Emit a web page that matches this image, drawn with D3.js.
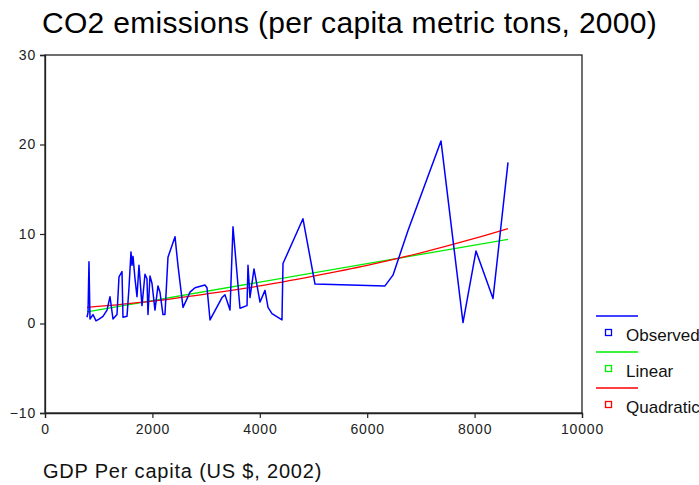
<!DOCTYPE html>
<html>
<head>
<meta charset="utf-8">
<script src="https://cdnjs.cloudflare.com/ajax/libs/d3/7.8.5/d3.min.js"></script>
<style>
  body { margin: 0; background: #fff; }
  svg { display: block; }
</style>
</head>
<body>
<svg id="chart"></svg>
<script>
// Observed series: GDP per capita (US $, 2002) and CO2 per capita, in GDP order
const gdp = [782, 801, 819, 838, 894, 950, 1006, 1080, 1155, 1210, 1266, 1341, 1378, 1434, 1452,
    1527, 1564, 1601, 1620, 1639, 1676, 1713, 1750, 1806, 1862, 1899, 1918, 1955, 1992, 2048,
    2104, 2141, 2197, 2234, 2290, 2421, 2476, 2570, 2663, 2700, 2793, 2979, 3017, 3073, 3296,
    3352, 3445, 3501, 3631, 3762, 3780, 3817, 3892, 4004, 4097, 4153, 4227, 4413, 4432, 4804,
    5028, 6331, 6480, 6760, 7374, 7784, 8026, 8343, 8622];
const co2 = [0.7, 1.2, 6.9, 0.5, 1.0, 0.3, 0.5, 0.8, 1.5, 3.0, 0.5, 1.0, 5.2, 5.8, 0.7,
    0.8, 4.0, 8.0, 6.5, 7.5, 5.0, 3.0, 6.5, 2.0, 5.5, 5.0, 1.0, 5.3, 4.5, 1.5,
    4.2, 3.5, 1.0, 1.0, 7.4, 9.7, 6.5, 1.8, 3.0, 3.5, 4.0, 4.3, 4.0, 0.4, 2.9,
    3.2, 1.5, 10.8, 1.7, 2.0, 6.5, 2.9, 6.1, 2.4, 3.7, 1.8, 1.1, 0.4, 6.7, 11.7,
    4.4, 4.2, 5.4, 10.4, 20.4, 0.1, 8.1, 2.8, 18.0];

// Fitted curves
const linearGdp = [782, 8622];
const linearFit = [1.3, 9.4];
const quadGdp = [782, 2000, 3000, 4000, 5000, 6000, 7000, 8000, 8622];
const quadFit = [1.8, 2.5, 3.3, 4.2, 5.3, 6.5, 7.9, 9.5, 10.6];

const xTicks = [0, 2000, 4000, 6000, 8000, 10000];
const yTicks = [-10, 0, 10, 20, 30];

const seriesNames = ["Observed", "Linear", "Quadratic"];
const seriesColors = ["#0000ff", "#00ee00", "#ff0000"];

const width = 699, height = 485;
const margin = { top: 55, right: 117, bottom: 72, left: 45 };
const plotW = width - margin.left - margin.right;
const plotH = height - margin.top - margin.bottom;
const font = "'Liberation Sans', Arial, sans-serif";

const svg = d3.select("#chart")
    .attr("width", width)
    .attr("height", height)
    .attr("font-family", font);

const xScale = d3.scaleLinear().domain([0, 10000]).range([margin.left, margin.left + plotW]);
const yScale = d3.scaleLinear().domain([-10, 30]).range([margin.top + plotH, margin.top]);

// Title
svg.append("text")
    .attr("x", 42)
    .attr("y", 33)
    .attr("font-size", "30px")
    .attr("letter-spacing", "0.3px")
    .attr("fill", "#000")
    .text("CO2 emissions (per capita metric tons, 2000)");

// X axis label
svg.append("text")
    .attr("x", 43)
    .attr("y", 478)
    .attr("font-size", "20px")
    .attr("letter-spacing", "0.8px")
    .attr("fill", "#111")
    .text("GDP Per capita (US $, 2002)");

// Plot frame
svg.append("rect")
    .attr("x", margin.left)
    .attr("y", margin.top)
    .attr("width", plotW)
    .attr("height", plotH)
    .attr("fill", "none")
    .attr("stroke", "#222")
    .attr("stroke-width", 1.3);

// Axes
const xAxis = d3.axisBottom(xScale).tickValues(xTicks).tickSize(5).tickPadding(6).tickFormat(d3.format("d"));
const yAxis = d3.axisLeft(yScale).tickValues(yTicks).tickSize(5).tickPadding(4);

const gx = svg.append("g")
    .attr("transform", `translate(0, ${margin.top + plotH})`)
    .call(xAxis);
const gy = svg.append("g")
    .attr("transform", `translate(${margin.left}, 0)`)
    .call(yAxis);

[gx, gy].forEach(g => {
    g.select(".domain").attr("stroke", "#222").attr("stroke-width", 1.3);
    g.selectAll(".tick line").attr("stroke", "#222").attr("stroke-width", 1.2);
    g.selectAll(".tick text")
        .attr("fill", "#222")
        .attr("font-size", "14px")
        .attr("letter-spacing", "0.8px")
        .attr("font-family", font);
});

// Lines
const observed = gdp.map((g, i) => ({ x: g, y: co2[i] }));
const linear = linearGdp.map((g, i) => ({ x: g, y: linearFit[i] }));
const quad = quadGdp.map((g, i) => ({ x: g, y: quadFit[i] }));

const line = d3.line().x(d => xScale(d.x)).y(d => yScale(d.y));
const smooth = d3.line().x(d => xScale(d.x)).y(d => yScale(d.y)).curve(d3.curveMonotoneX);

svg.append("path").datum(linear)
    .attr("d", line)
    .attr("fill", "none")
    .attr("stroke", seriesColors[1])
    .attr("stroke-width", 1.3);

svg.append("path").datum(quad)
    .attr("d", smooth)
    .attr("fill", "none")
    .attr("stroke", seriesColors[2])
    .attr("stroke-width", 1.3);

svg.append("path").datum(observed)
    .attr("d", line)
    .attr("fill", "none")
    .attr("stroke", seriesColors[0])
    .attr("stroke-width", 1.5)
    .attr("stroke-linejoin", "round");

// Legend
const legend = svg.append("g").attr("transform", "translate(596, 316)");
seriesNames.forEach((name, i) => {
    const g = legend.append("g").attr("transform", `translate(0, ${i * 36})`);
    g.append("line")
        .attr("x1", 0).attr("x2", 42)
        .attr("y1", 0).attr("y2", 0)
        .attr("stroke", seriesColors[i])
        .attr("stroke-width", 1.3);
    g.append("rect")
        .attr("x", 9.5).attr("y", 13.5)
        .attr("width", 6).attr("height", 6)
        .attr("fill", "none")
        .attr("stroke", seriesColors[i])
        .attr("stroke-width", 1.3);
    g.append("text")
        .attr("x", 30)
        .attr("y", 25)
        .attr("font-size", "17px")
        .attr("fill", "#111")
        .text(name);
});
</script>
</body>
</html>
